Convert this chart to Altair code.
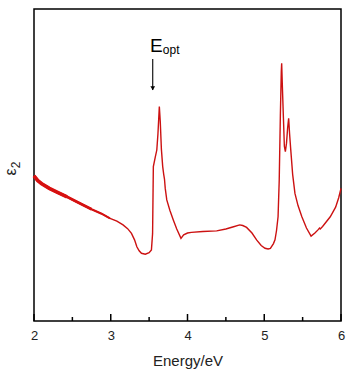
import altair as alt
import pandas as pd

energy = [2.00, 2.05, 2.10, 2.20, 2.30, 2.43, 2.55, 2.64, 2.75, 2.88, 2.99, 3.08, 3.16, 3.22, 3.27, 3.31,
          3.34, 3.37, 3.40, 3.45, 3.50, 3.53, 3.545, 3.555, 3.58, 3.60, 3.615, 3.633, 3.645, 3.66, 3.677,
          3.69, 3.70, 3.71, 3.73, 3.77, 3.815, 3.86, 3.915, 3.95, 4.00, 4.05, 4.20, 4.38, 4.50, 4.60, 4.68,
          4.72, 4.77, 4.84, 4.90, 4.96, 5.01, 5.05, 5.08, 5.12, 5.14, 5.16, 5.18, 5.195, 5.21, 5.222, 5.227,
          5.235, 5.25, 5.262, 5.275, 5.29, 5.305, 5.318, 5.33, 5.345, 5.37, 5.40, 5.44, 5.49, 5.55, 5.61,
          5.66, 5.70, 5.72, 5.73, 5.76, 5.86, 5.93, 5.97, 6.00]
eps2 = [46.5, 45.0, 44.0, 42.5, 41.3, 39.8, 38.3, 37.2, 35.8, 34.4, 32.9, 32.0, 30.8, 29.6, 28.1, 26.0,
        23.8, 22.5, 21.7, 21.4, 21.9, 22.8, 28.0, 49.5, 52.5, 54.8, 60.0, 68.7, 64.0, 55.0, 49.5,
        47.0, 45.5, 42.5, 38.8, 35.5, 32.4, 29.5, 26.5, 27.6, 28.2, 28.4, 28.7, 28.9, 29.5, 30.2, 30.8,
        30.6, 30.0, 28.2, 26.0, 24.2, 23.3, 23.1, 23.3, 24.8, 26.0, 29.0, 33.4, 45.0, 66.0, 80.0, 82.6,
        76.0, 64.9, 56.0, 54.3, 57.0, 62.0, 65.0, 60.0, 55.0, 47.0, 40.9, 37.0, 33.4, 29.8, 27.2,
        28.2, 29.2, 29.8, 29.5, 30.3, 33.4, 36.5, 39.5, 42.5]

major_ticks = [2, 3, 4, 5, 6]
minor_ticks = [2.5, 3.5, 4.5, 5.5]

arrow_x = 3.547
arrow_top = 84.0
arrow_bottom = 74.0

df = pd.DataFrame({"E": energy, "eps": eps2})

xs = alt.Scale(domain=[2, 6], nice=False, zero=False)
ys = alt.Scale(domain=[0, 100], nice=False, zero=False)

xaxis = alt.Axis(values=major_ticks, format="d", ticks=False, domain=False, grid=False,
                 labelFlush=False, labelFont="Liberation Sans", labelFontSize=13, labelColor="#222",
                 labelPadding=8, title="Energy/eV", titleFont="Liberation Sans",
                 titleFontSize=15, titleFontWeight="normal", titleColor="#222", titlePadding=11)
yaxis = alt.Axis(labels=False, ticks=False, domain=False, grid=False, title=None)

line = alt.Chart(df).mark_line(color="#cc1111", strokeWidth=1.4).encode(
    x=alt.X("E:Q", scale=xs, axis=xaxis),
    y=alt.Y("eps:Q", scale=ys, axis=yaxis),
)
noise1 = alt.Chart(df[df["E"] <= 2.43]).mark_line(color="#dd1111", strokeWidth=3.6).encode(
    x=alt.X("E:Q", scale=xs), y=alt.Y("eps:Q", scale=ys)
)
noise2 = alt.Chart(df[df["E"] <= 2.80]).mark_line(color="#dd1111", strokeWidth=2.8).encode(
    x=alt.X("E:Q", scale=xs), y=alt.Y("eps:Q", scale=ys)
)
noise3 = alt.Chart(df[df["E"] <= 3.00]).mark_line(color="#d41111", strokeWidth=2.1).encode(
    x=alt.X("E:Q", scale=xs), y=alt.Y("eps:Q", scale=ys)
)

maj = alt.Chart(pd.DataFrame({"t": major_ticks})).mark_rule(color="black", strokeWidth=1.5).encode(
    x=alt.X("t:Q", scale=xs), y=alt.value(305), y2=alt.value(312)
)
mino = alt.Chart(pd.DataFrame({"t": minor_ticks})).mark_rule(color="black", strokeWidth=1.5).encode(
    x=alt.X("t:Q", scale=xs), y=alt.value(308), y2=alt.value(312)
)

arrow = alt.Chart(pd.DataFrame({"x": [arrow_x], "y1": [arrow_top], "y2": [arrow_bottom]})).mark_rule(
    color="black", strokeWidth=1.1).encode(
    x=alt.X("x:Q", scale=xs), y=alt.Y("y1:Q", scale=ys), y2="y2:Q"
)
head = alt.Chart(pd.DataFrame({"x": [arrow_x], "y": [arrow_bottom + 0.6]})).mark_point(
    shape="triangle-down", filled=True, color="black", size=22, opacity=1).encode(
    x=alt.X("x:Q", scale=xs), y=alt.Y("y:Q", scale=ys)
)
label_e = alt.Chart(pd.DataFrame({"x": [3.511], "y": [86.2], "t": ["E"]})).mark_text(
    align="left", baseline="alphabetic", font="Liberation Sans", fontSize=19, color="black").encode(
    x=alt.X("x:Q", scale=xs), y=alt.Y("y:Q", scale=ys), text="t:N"
)
label_sub = alt.Chart(pd.DataFrame({"x": [3.678], "y": [85.6], "t": ["opt"]})).mark_text(
    align="left", baseline="alphabetic", font="Liberation Sans", fontSize=12, color="black").encode(
    x=alt.X("x:Q", scale=xs), y=alt.Y("y:Q", scale=ys), text="t:N"
)

ytitle_eps = alt.Chart(pd.DataFrame({"t": ["ε"]})).mark_text(
    angle=270, align="center", baseline="middle", font="Liberation Sans", fontSize=16, color="#222").encode(
    x=alt.value(-23), y=alt.value(163), text="t:N"
)
ytitle_sub = alt.Chart(pd.DataFrame({"t": ["2"]})).mark_text(
    angle=270, align="center", baseline="middle", font="Liberation Sans", fontSize=12, color="#222").encode(
    x=alt.value(-18), y=alt.value(156), text="t:N"
)

chart = alt.layer(line, noise1, noise2, noise3, maj, mino, arrow, head, label_e, label_sub,
                  ytitle_eps, ytitle_sub).properties(
    width=307, height=312,
    autosize=alt.AutoSizeParams(type="none"),
    padding={"left": 34, "top": 9, "right": 10, "bottom": 57},
    background="white",
).configure_view(stroke="black", strokeWidth=1.5)

chart.save("out.html", embed_options={"renderer": "svg", "actions": False})
